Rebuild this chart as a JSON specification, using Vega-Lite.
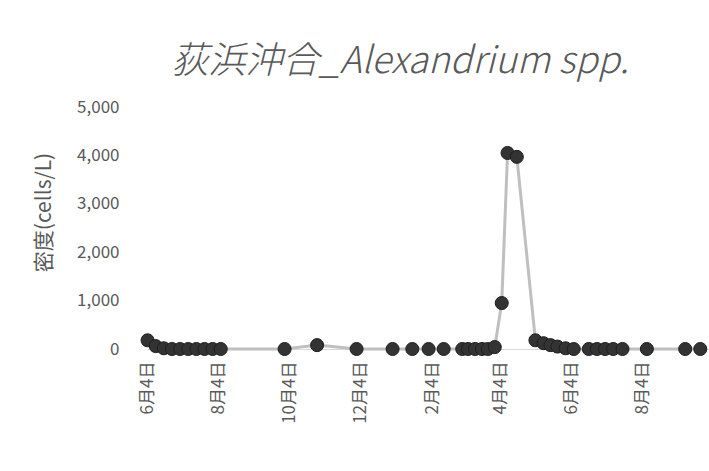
{
  "$schema": "https://vega.github.io/schema/vega-lite/v6.json",
  "width": 562,
  "height": 242,
  "autosize": {"type": "none"},
  "padding": {"left": 147, "top": 107, "right": 0, "bottom": 122},
  "background": "white",
  "config": {"view": {"stroke": null}, "font": "Noto Sans CJK JP"},
  "title": {
    "text": "荻浜沖合_Alexandrium spp.",
    "font": "Noto Sans CJK JP",
    "fontSize": 37,
    "fontStyle": "italic",
    "fontWeight": 300,
    "color": "#595959",
    "anchor": "middle",
    "frame": "group",
    "dx": -28,
    "offset": 17
  },
  "data": {
    "values": [
      {"date": "2020-06-04", "density": 180},
      {"date": "2020-06-11", "density": 60},
      {"date": "2020-06-18", "density": 15},
      {"date": "2020-06-25", "density": 0},
      {"date": "2020-07-02", "density": 0},
      {"date": "2020-07-09", "density": 0},
      {"date": "2020-07-16", "density": 0},
      {"date": "2020-07-23", "density": 0},
      {"date": "2020-07-30", "density": 0},
      {"date": "2020-08-06", "density": 0},
      {"date": "2020-09-30", "density": 0},
      {"date": "2020-10-28", "density": 80},
      {"date": "2020-12-01", "density": 0},
      {"date": "2021-01-01", "density": 0},
      {"date": "2021-01-18", "density": 0},
      {"date": "2021-02-01", "density": 0},
      {"date": "2021-02-14", "density": 0},
      {"date": "2021-03-02", "density": 0},
      {"date": "2021-03-07", "density": 0},
      {"date": "2021-03-13", "density": 0},
      {"date": "2021-03-19", "density": 0},
      {"date": "2021-03-24", "density": 0},
      {"date": "2021-03-30", "density": 40},
      {"date": "2021-04-05", "density": 950},
      {"date": "2021-04-10", "density": 4050},
      {"date": "2021-04-18", "density": 3970},
      {"date": "2021-05-04", "density": 180},
      {"date": "2021-05-11", "density": 120},
      {"date": "2021-05-17", "density": 80},
      {"date": "2021-05-23", "density": 50},
      {"date": "2021-05-30", "density": 15},
      {"date": "2021-06-06", "density": 0},
      {"date": "2021-06-19", "density": 0},
      {"date": "2021-06-26", "density": 0},
      {"date": "2021-07-03", "density": 0},
      {"date": "2021-07-10", "density": 0},
      {"date": "2021-07-18", "density": 0},
      {"date": "2021-08-08", "density": 0},
      {"date": "2021-09-10", "density": 0},
      {"date": "2021-09-23", "density": 0}
    ]
  },
  "encoding": {
    "x": {
      "field": "date",
      "type": "temporal",
      "scale": {
        "type": "utc",
        "domain": [
          {"year": 2020, "month": 6, "date": 3, "hours": 12, "utc": true},
          {"year": 2021, "month": 9, "date": 30, "hours": 12, "utc": true}
        ]
      },
      "axis": {
        "values": [
          {"year": 2020, "month": 6, "date": 4, "utc": true},
          {"year": 2020, "month": 8, "date": 4, "utc": true},
          {"year": 2020, "month": 10, "date": 4, "utc": true},
          {"year": 2020, "month": 12, "date": 4, "utc": true},
          {"year": 2021, "month": 2, "date": 4, "utc": true},
          {"year": 2021, "month": 4, "date": 4, "utc": true},
          {"year": 2021, "month": 6, "date": 4, "utc": true},
          {"year": 2021, "month": 8, "date": 4, "utc": true}
        ],
        "labelExpr": "(utcmonth(datum.value) + 1) + '月' + utcdate(datum.value) + '日'",
        "labelAngle": -90,
        "labelFont": "Noto Sans CJK JP",
        "labelFontSize": 17,
        "labelColor": "#595959",
        "labelPadding": 12,
        "ticks": false,
        "tickSize": 0,
        "grid": false,
        "domain": true,
        "domainColor": "#d9d9d9",
        "domainWidth": 1,
        "title": null
      }
    },
    "y": {
      "field": "density",
      "type": "quantitative",
      "scale": {"domain": [0, 5000], "nice": false},
      "axis": {
        "values": [0, 1000, 2000, 3000, 4000, 5000],
        "labelExpr": "datum.value >= 1000 ? floor(datum.value / 1000) + ',000' : '' + datum.value",
        "domain": false,
        "ticks": false,
        "tickSize": 0,
        "grid": false,
        "labelFont": "Noto Sans CJK JP",
        "labelFontSize": 17,
        "labelColor": "#595959",
        "labelPadding": 28,
        "title": "密度(cells/L)",
        "titleFont": "Noto Sans CJK JP",
        "titleFontSize": 21,
        "titleFontWeight": "normal",
        "titleColor": "#595959",
        "titlePadding": 22,
        "titleY": 105
      }
    }
  },
  "layer": [
    {"mark": {"type": "line", "color": "#bfbfbf", "strokeWidth": 3}},
    {"mark": {"type": "point", "filled": true, "size": 170, "fill": "#333333", "stroke": "#1f1f1f", "strokeWidth": 1, "opacity": 1}}
  ]
}
